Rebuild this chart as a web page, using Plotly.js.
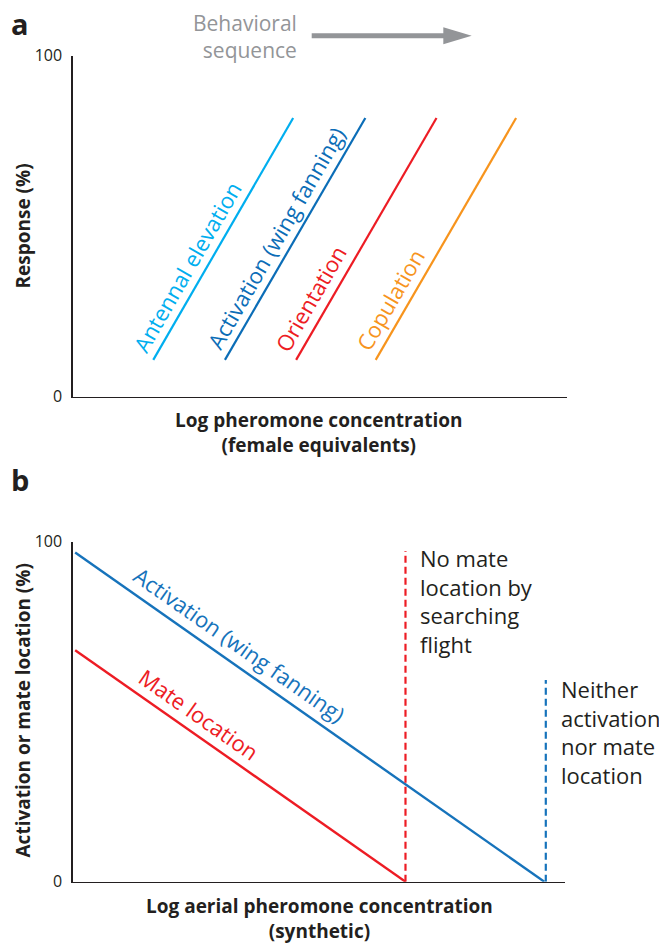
<!DOCTYPE html>
<html>
<head>
<meta charset="utf-8">
<script src="https://cdn.plot.ly/plotly-3.0.1.min.js"></script>
<style>
  html, body { margin: 0; padding: 0; background: #ffffff; }
  #chart { width: 659px; height: 943px; }
</style>
</head>
<body>
<div id="chart"></div>
<script>
// ---------- Panel a data: dose-response lines (Response %, log concentration) ----------
const aNames  = ["Antennal elevation", "Activation (wing fanning)", "Orientation", "Copulation"];
const aXStart = [16.3, 30.8, 45.2, 61.3];
const aXEnd   = [44.6, 59.2, 73.6, 89.7];
const aYStart = [10.8, 10.8, 10.8, 10.8];
const aYEnd   = [81.7, 81.7, 81.7, 81.7];
const aColors = ["#00aeef", "#0b6db7", "#ed1c24", "#f7941d"];

// ---------- Panel b data ----------
const bActX = [0.5, 95.8];
const bActY = [96.8, 0];
const bMateX = [0.5, 67.6];
const bMateY = [68.1, 0];
const bNoMateX = [67.6, 67.6];
const bNoMateY = [0, 97.3];
const bNeitherX = [96.1, 96.1];
const bNeitherY = [0, 59.3];

const yTickVals = [0, 100];
const yTickText = ["0", "100"];

const FONT = "Open Sans, sans-serif";
const DARK = "#231f20";
const GREY = "#939598";
const BLUE_B = "#1673bb";
const RED = "#ed1c24";

const traces = [];
for (let i = 0; i < aNames.length; i++) {
  traces.push({
    type: "scatter", mode: "lines", name: aNames[i],
    x: [aXStart[i], aXEnd[i]], y: [aYStart[i], aYEnd[i]],
    xaxis: "x", yaxis: "y",
    line: { color: aColors[i], width: 2.2 },
    hoverinfo: "skip", showlegend: false
  });
}
traces.push({ type: "scatter", mode: "lines", name: "Activation (wing fanning)",
  x: bActX, y: bActY, xaxis: "x2", yaxis: "y2",
  line: { color: BLUE_B, width: 2.4 }, showlegend: false });
traces.push({ type: "scatter", mode: "lines", name: "Mate location",
  x: bMateX, y: bMateY, xaxis: "x2", yaxis: "y2",
  line: { color: RED, width: 2.4 }, showlegend: false });
traces.push({ type: "scatter", mode: "lines", name: "No mate location",
  x: bNoMateX, y: bNoMateY, xaxis: "x2", yaxis: "y2",
  line: { color: RED, width: 2.2, dash: "7px,4px" }, showlegend: false });
traces.push({ type: "scatter", mode: "lines", name: "Neither",
  x: bNeitherX, y: bNeitherY, xaxis: "x2", yaxis: "y2",
  line: { color: BLUE_B, width: 2.2, dash: "7px,4px" }, showlegend: false });

const W = 659, H = 943;
const px = v => v / W;
const py = v => 1 - v / H;

const axisCommon = {
  showgrid: false, zeroline: false, showline: true,
  linecolor: DARK, linewidth: 1.4, ticks: "", fixedrange: true
};

const layout = {
  width: W, height: H,
  margin: { l: 0, r: 0, t: 0, b: 0 },
  paper_bgcolor: "#ffffff", plot_bgcolor: "#ffffff",
  showlegend: false,
  font: { family: FONT, color: DARK },
  xaxis: Object.assign({}, axisCommon, {
    domain: [px(72.7), px(567)], range: [0, 100], anchor: "y",
    showticklabels: false
  }),
  yaxis: Object.assign({}, axisCommon, {
    domain: [py(396.7), py(55.5)], range: [0, 100], anchor: "x",
    tickvals: yTickVals, ticktext: yTickText, ticklabelstandoff: 6,
    tickfont: { family: FONT, size: 16, color: DARK }
  }),
  xaxis2: Object.assign({}, axisCommon, {
    domain: [px(72.7), px(565)], range: [0, 100], anchor: "y2",
    showticklabels: false
  }),
  yaxis2: Object.assign({}, axisCommon, {
    domain: [py(881.7), py(541.7)], range: [0, 100], anchor: "x2",
    tickvals: yTickVals, ticktext: yTickText, ticklabelstandoff: 6,
    tickfont: { family: FONT, size: 16, color: DARK }
  }),
  shapes: [
    { type: "line", xref: "paper", yref: "paper",
      x0: px(311.7), x1: px(446), y0: py(35.7), y1: py(35.7),
      line: { color: GREY, width: 5 } },
    { type: "path", xref: "paper", yref: "paper",
      path: "M " + px(443.3) + "," + py(27.3) + " L " + px(471.7) + "," + py(35.7) +
            " L " + px(443.3) + "," + py(44.3) + " Z",
      fillcolor: GREY, line: { color: GREY, width: 0 } }
  ],
  annotations: [
    // panel letters
    { xref: "paper", yref: "paper", x: px(9), y: py(23), xanchor: "left", yanchor: "middle",
      text: "<b>a</b>", showarrow: false, font: { family: FONT, size: 29, color: DARK } },
    { xref: "paper", yref: "paper", x: px(9), y: py(479), xanchor: "left", yanchor: "middle",
      text: "<b>b</b>", showarrow: false, font: { family: FONT, size: 29, color: DARK } },
    // behavioral sequence
    { xref: "paper", yref: "paper", x: px(299), y: py(36), xanchor: "right", yanchor: "middle",
      align: "right", text: "Behavioral<br>sequence", showarrow: false,
      font: { family: FONT, size: 21, color: GREY } },
    // panel a axis titles
    { xref: "paper", yref: "paper", x: px(22), y: py(226.5), xanchor: "center", yanchor: "middle",
      textangle: -90, text: "<b>Response (%)</b>", showarrow: false,
      font: { family: FONT, size: 19, color: DARK } },
    { xref: "paper", yref: "paper", x: px(319), y: py(432), xanchor: "center", yanchor: "middle",
      text: "<b>Log pheromone concentration<br>(female equivalents)</b>", showarrow: false,
      font: { family: FONT, size: 19, color: DARK } },
    // panel a line labels
    { xref: "x", yref: "y", x: 23.2, y: 38.2, textangle: -60, text: aNames[0], showarrow: false,
      font: { family: FONT, size: 22, color: aColors[0] } },
    { xref: "x", yref: "y", x: 41.0, y: 46.6, textangle: -60, text: aNames[1], showarrow: false,
      font: { family: FONT, size: 22, color: aColors[1] } },
    { xref: "x", yref: "y", x: 48.1, y: 29.0, textangle: -60, text: aNames[2], showarrow: false,
      font: { family: FONT, size: 22, color: aColors[2] } },
    { xref: "x", yref: "y", x: 64.1, y: 28.4, textangle: -60, text: aNames[3], showarrow: false,
      font: { family: FONT, size: 22, color: aColors[3] } },
    // panel b axis titles
    { xref: "paper", yref: "paper", x: px(22), y: py(710.5), xanchor: "center", yanchor: "middle",
      textangle: -90, text: "<b>Activation or mate location (%)</b>", showarrow: false,
      font: { family: FONT, size: 19, color: DARK } },
    { xref: "paper", yref: "paper", x: px(319), y: py(918), xanchor: "center", yanchor: "middle",
      text: "<b>Log aerial pheromone concentration<br>(synthetic)</b>", showarrow: false,
      font: { family: FONT, size: 19, color: DARK } },
    // panel b line labels
    { xref: "x2", yref: "y2", x: 33.8, y: 69.8, textangle: 35, text: "Activation (wing fanning)",
      showarrow: false, font: { family: FONT, size: 22, color: BLUE_B } },
    { xref: "x2", yref: "y2", x: 25.6, y: 49.2, textangle: 35, text: "Mate location",
      showarrow: false, font: { family: FONT, size: 22, color: RED } },
    { xref: "x2", yref: "y2", x: 70.1, y: 82.6, xanchor: "left", yanchor: "middle", align: "left",
      text: "No mate<br>location by<br>searching<br>flight", showarrow: false,
      font: { family: FONT, size: 22, color: DARK } },
    { xref: "x2", yref: "y2", x: 98.8, y: 44.0, xanchor: "left", yanchor: "middle", align: "left",
      text: "Neither<br>activation<br>nor mate<br>location", showarrow: false,
      font: { family: FONT, size: 22, color: DARK } }
  ]
};

Plotly.newPlot("chart", traces, layout, { staticPlot: true, displayModeBar: false });
</script>
</body>
</html>
